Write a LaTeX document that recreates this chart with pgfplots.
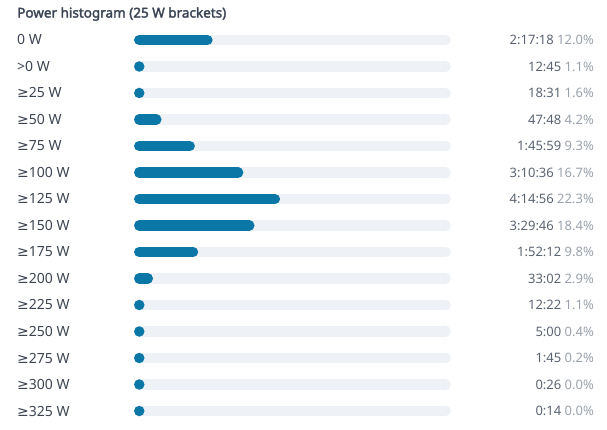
\documentclass[border=0pt]{standalone}
\usepackage{fontspec}
\setmainfont{Noto Sans}
\newfontfamily\titlefont{Noto Sans}[FakeBold=2.2]
\newfontfamily\symfont{DejaVu Sans}
\newcommand{\gesym}{{\symfont ≥}}
\usepackage{pgfplots}
\usepackage{pgfplotstable}
\pgfplotsset{compat=1.18}
\definecolor{barblue}{HTML}{0A77A7}
\definecolor{trackgray}{HTML}{EEF2F6}
\definecolor{labelgray}{HTML}{3C4452}
\definecolor{titlegray}{HTML}{3A4455}
\definecolor{timegray}{HTML}{5B6473}
\definecolor{pctgray}{HTML}{9AA2AD}
\pgfplotstableread{
row label time pct
0 {0 W} 2:17:18 12.0
1 {>0 W} 12:45 1.1
2 {\gesym 25 W} 18:31 1.6
3 {\gesym 50 W} 47:48 4.2
4 {\gesym 75 W} 1:45:59 9.3
5 {\gesym 100 W} 3:10:36 16.7
6 {\gesym 125 W} 4:14:56 22.3
7 {\gesym 150 W} 3:29:46 18.4
8 {\gesym 175 W} 1:52:12 9.8
9 {\gesym 200 W} 33:02 2.9
10 {\gesym 225 W} 12:22 1.1
11 {\gesym 250 W} 5:00 0.4
12 {\gesym 275 W} 1:45 0.2
13 {\gesym 300 W} 0:26 0.0
14 {\gesym 325 W} 0:14 0.0
}\data
\pgfplotstablecreatecol[create col/set={69.43}]{rx}\data
\pgfplotstablecreatecol[create col/set={-18.66}]{lx}\data
\pgfplotstablecreatecol[create col/set={46.79}]{tx}\data
\pgfplotstablecreatecol[create col/assign/.code={%
  \getthisrow{time}\ttime
  \getthisrow{pct}\tpct
  \edef\entry{\noexpand\textcolor{timegray}{\ttime}\noexpand\ \noexpand\textcolor{pctgray}{\tpct\noexpand\%}}%
  \pgfkeyslet{/pgfplots/table/create col/next content}\entry
}]{rlab}\data
\begin{document}
\begin{tikzpicture}
\begin{axis}[
  scale only axis, width=607bp, height=430bp,
  xmin=-21.26, xmax=71.41,
  ymin=-1.509, ymax=14.717,
  y dir=reverse,
  hide axis, clip=false,
]
\path (rel axis cs:0,0) rectangle (rel axis cs:1,1);
% track
\addplot[xcomb, no marks, draw=trackgray, line width=10.5bp, line cap=round]
  table[x=tx, y=row]{\data};
% bars
\addplot[xcomb, no marks, draw=barblue, line width=10.5bp, line cap=round]
  table[x expr={max(\thisrow{pct}-1.603,0)}, y=row]{\data};
% left labels
\addplot[only marks, mark=none, nodes near coords, point meta=explicit symbolic,
  nodes near coords style={anchor=west, inner sep=0pt, text=labelgray,
    font=\fontsize{14bp}{16bp}\selectfont}]
  table[x=lx, y=row, meta=label]{\data};
% right values
\addplot[only marks, mark=none, nodes near coords, point meta=explicit symbolic,
  nodes near coords style={anchor=east, inner sep=0pt,
    font=\fontsize{13bp}{15bp}\selectfont}]
  table[x=rx, y=row, meta=rlab]{\data};
\node[anchor=west, inner sep=0pt, text=titlegray, font=\titlefont\fontsize{13.5bp}{16bp}\selectfont]
  at (axis cs:-18.66,-0.98) {Power histogram (25 W brackets)};
\end{axis}
\end{tikzpicture}
\end{document}
